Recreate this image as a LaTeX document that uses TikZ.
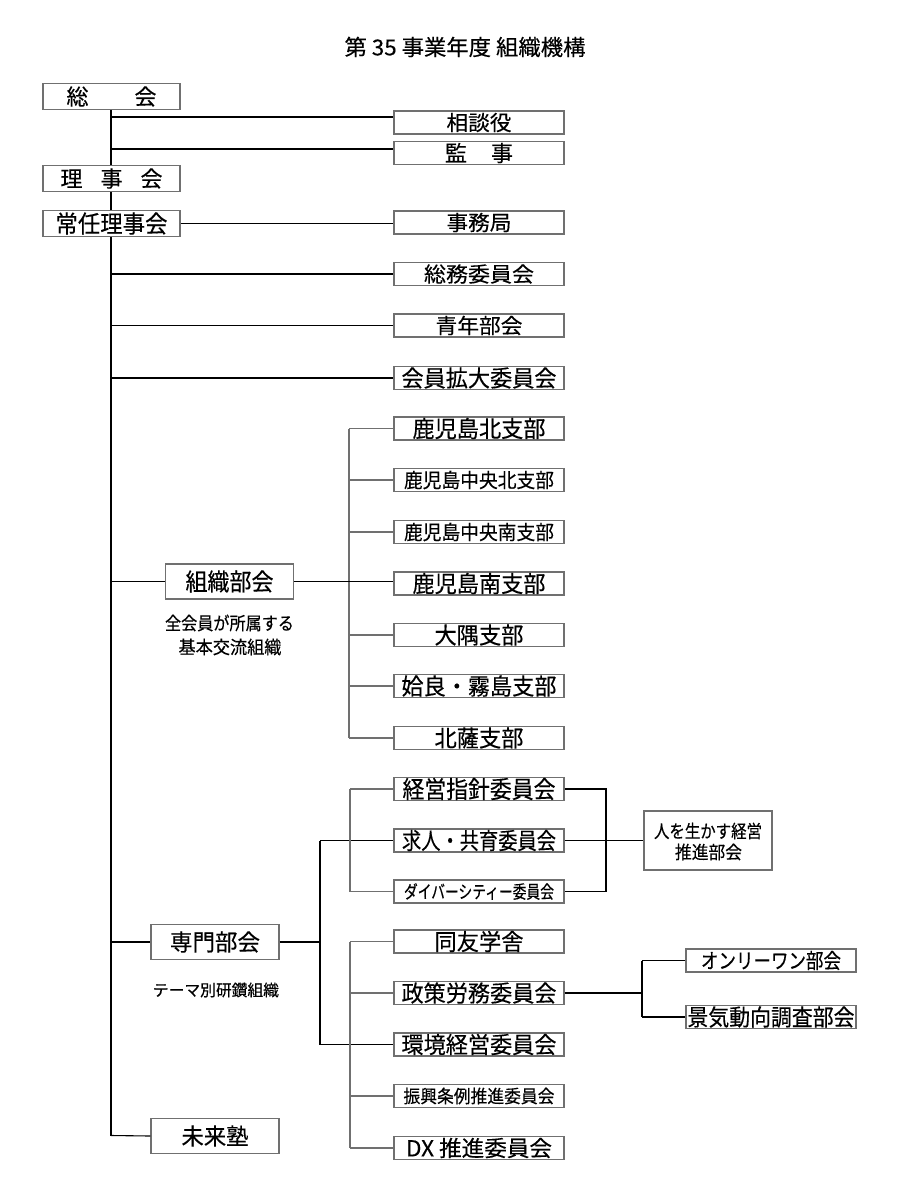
\documentclass[tikz,border=0pt]{standalone}
\usepackage{fontspec}
\usepackage{graphicx}
\setmainfont[FakeBold=0.3]{Noto Sans CJK JP}
\newcommand\fw[2]{\resizebox{#1pt}{\height}{#2}}
\newcommand\fs[1]{\fontsize{#1}{#1}\selectfont}
\definecolor{bordergray}{HTML}{707070}
\definecolor{linegray}{HTML}{707070}
\tikzset{
  bx/.style={draw=bordergray, line width=1.4pt, fill=white, inner sep=0pt, font=\fs{19}},
  rbox/.style={bx, minimum width=170pt, minimum height=23pt},
  lbox/.style={bx, minimum width=137pt, minimum height=26pt},
  mbox/.style={bx, minimum width=128pt, minimum height=35pt},
  conn/.style={draw=black, line width=1.1pt},
  gconn/.style={draw=linegray, line width=1.4pt},
  lbl/.style={inner sep=0pt},
}
\begin{document}
\begin{tikzpicture}[x=1pt,y=-1pt]
\useasboundingbox (0,0) rectangle (900,1200);
% title
\node[lbl, font=\fs{22}] (title) at (465,47) {\fw{241}{第 35 事業年度 組織機構}};
% left column
\node[lbox, font=\fs{22}] (sokai) at (111.5,96.5) {総\hspace{46pt}会};
\node[lbox, font=\fs{22}] (rijikai) at (111.5,178.5) {理\hspace{18pt}事\hspace{18pt}会};
\node[lbox, font=\fs{24}] (jonin) at (111.5,223.5) {\fw{112}{常任理事会}};
% right column top
\node[rbox, font=\fs{21}] (sodan) at (479,122.5) {\fw{65}{相談役}};
\node[rbox, font=\fs{22}] (kanji) at (479,153) {監\hspace{24pt}事};
\node[rbox, font=\fs{21}] (jimu) at (479,222.5) {\fw{65}{事務局}};
\node[rbox, font=\fs{21}] (somu) at (479,274) {\fw{110}{総務委員会}};
\node[rbox, font=\fs{21}] (seinen) at (479,325.5) {\fw{87}{青年部会}};
\node[rbox, font=\fs{23}] (kakudai) at (479,378) {\fw{155}{会員拡大委員会}};
% soshiki group
\node[rbox, font=\fs{23}] (kn) at (479,428.5) {\fw{133}{鹿児島北支部}};
\node[rbox, font=\fs{20}] (kcn) at (479,480) {\fw{150}{鹿児島中央北支部}};
\node[rbox, font=\fs{20}] (kcs) at (479,532) {\fw{150}{鹿児島中央南支部}};
\node[rbox, font=\fs{23}] (ks) at (479,583.5) {\fw{133}{鹿児島南支部}};
\node[rbox, font=\fs{23}] (osumi) at (479,635) {\fw{89}{大隅支部}};
\node[rbox, font=\fs{23}] (aira) at (479,686) {\fw{155}{姶良・霧島支部}};
\node[rbox, font=\fs{23}] (hokusatsu) at (479,738) {\fw{89}{北薩支部}};
\node[mbox, font=\fs{24}] (soshiki) at (229.5,581.5) {\fw{88}{組織部会}};
\node[lbl, font=\fs{18}] (soshikinote1) at (229.5,623) {\fw{129}{全会員が所属する}};
\node[lbl, font=\fs{18}] (soshikinote2) at (230,647) {\fw{103}{基本交流組織}};
% senmon group
\node[rbox, font=\fs{24}] (keiei) at (479,789) {\fw{153}{経営指針委員会}};
\node[rbox, font=\fs{23}] (kyujin) at (479,840.5) {\fw{154}{求人・共育委員会}};
\node[rbox, font=\fs{18}] (div) at (479,891.5) {\fw{150}{ダイバーシティー委員会}};
\node[bx, minimum width=128pt, minimum height=59pt] (hito) at (708,840.5) {};
\node[lbl, font=\fs{18}] (hito1) at (708,831) {\fw{108}{人を生かす経営}};
\node[lbl, font=\fs{18}] (hito2) at (708.5,852) {\fw{67}{推進部会}};
\node[mbox, font=\fs{23}] (senmon) at (215,942) {\fw{90}{専門部会}};
\node[lbl, font=\fs{16}] (senmonnote) at (216,990) {\fw{126}{テーマ別研鑽組織}};
\node[rbox, font=\fs{23}] (doyu) at (479,941.5) {\fw{89}{同友学舎}};
\node[rbox, font=\fs{23}] (seisaku) at (479,993) {\fw{155}{政策労務委員会}};
\node[rbox, font=\fs{23}] (kankyo) at (479,1044.5) {\fw{155}{環境経営委員会}};
\node[rbox, font=\fs{18}] (shinko) at (479,1096) {\fw{151}{振興条例推進委員会}};
\node[rbox, font=\fs{22}] (dx) at (479,1148) {\fw{146}{DX 推進委員会}};
\node[rbox, font=\fs{21}] (only) at (771,960.5) {\fw{140}{オンリーワン部会}};
\node[rbox, font=\fs{23}] (keiki) at (771,1017) {\fw{167}{景気動向調査部会}};
\node[mbox, font=\fs{23}] (mirai) at (215,1136) {\fw{67}{未来塾}};
% trunk coordinates
\coordinate (tsodan) at (111,117);
\coordinate (tkanji) at (111,149);
\coordinate (tend) at (111,1135.5);
% trunk
\draw[conn] (sokai.south -| tsodan) -- (rijikai.north -| tsodan);
\draw[conn] (rijikai.south -| tsodan) -- (jonin.north -| tsodan);
\draw[conn] (jonin.south -| tsodan) -- (tend);
\draw[conn] (tsodan) -- (tsodan -| sodan.west);
\draw[conn] (tkanji) -- (tkanji -| kanji.west);
\draw[conn] (jonin.east) -- (jonin.east -| jimu.west);
\draw[conn] (tsodan |- somu.west) -- (somu.west);
\draw[conn] (tsodan |- seinen.west) -- (seinen.west);
\draw[conn] (tsodan |- kakudai.west) -- (kakudai.west);
\draw[conn] (tsodan |- soshiki.west) -- (soshiki.west);
\draw[conn] (tsodan |- senmon.west) -- (senmon.west);
\draw[conn] (tend) -- (mirai.west);
% soshiki branches
\coordinate (sv) at (349,0);
\draw[gconn] (sv |- kn.west) -- (sv |- hokusatsu.west);
\draw[gconn] (sv |- kn.west) -- (kn.west);
\draw[gconn] (sv |- kcn.west) -- (kcn.west);
\draw[gconn] (sv |- kcs.west) -- (kcs.west);
\draw[gconn] (sv |- osumi.west) -- (osumi.west);
\draw[gconn] (sv |- aira.west) -- (aira.west);
\draw[gconn] (sv |- hokusatsu.west) -- (hokusatsu.west);
\draw[conn] (soshiki.east) -- (soshiki.east -| ks.west);
% senmon branches
\coordinate (pv) at (320,0);
\coordinate (qv) at (350,0);
\coordinate (bv) at (606,0);
\coordinate (cv) at (642,0);
\draw[conn] (senmon.east) -- (pv |- senmon.east);
\draw[conn] (pv |- kyujin.west) -- (pv |- kankyo.west);
\draw[conn] (pv |- kyujin.west) -- (kyujin.west);
\draw[conn] (pv |- kankyo.west) -- (kankyo.west);
\draw[gconn] (qv |- keiei.west) -- (qv |- div.west);
\draw[gconn] (qv |- keiei.west) -- (keiei.west);
\draw[gconn] (qv |- div.west) -- (div.west);
\draw[conn] (keiei.east) -- (bv |- keiei.east) -- (bv |- div.east) -- (div.east);
\draw[conn] (kyujin.east) -- (hito.west |- kyujin.east);
\draw[gconn] (qv |- doyu.west) -- (qv |- dx.west);
\draw[gconn] (qv |- doyu.west) -- (doyu.west);
\draw[gconn] (qv |- seisaku.west) -- (seisaku.west);
\draw[gconn] (qv |- shinko.west) -- (shinko.west);
\draw[gconn] (qv |- dx.west) -- (dx.west);
\draw[conn] (seisaku.east) -- (cv |- seisaku.east);
\draw[conn] (cv |- only.west) -- (cv |- keiki.west);
\draw[conn] (cv |- only.west) -- (only.west);
\draw[conn] (cv |- keiki.west) -- (keiki.west);
\end{tikzpicture}
\end{document}
